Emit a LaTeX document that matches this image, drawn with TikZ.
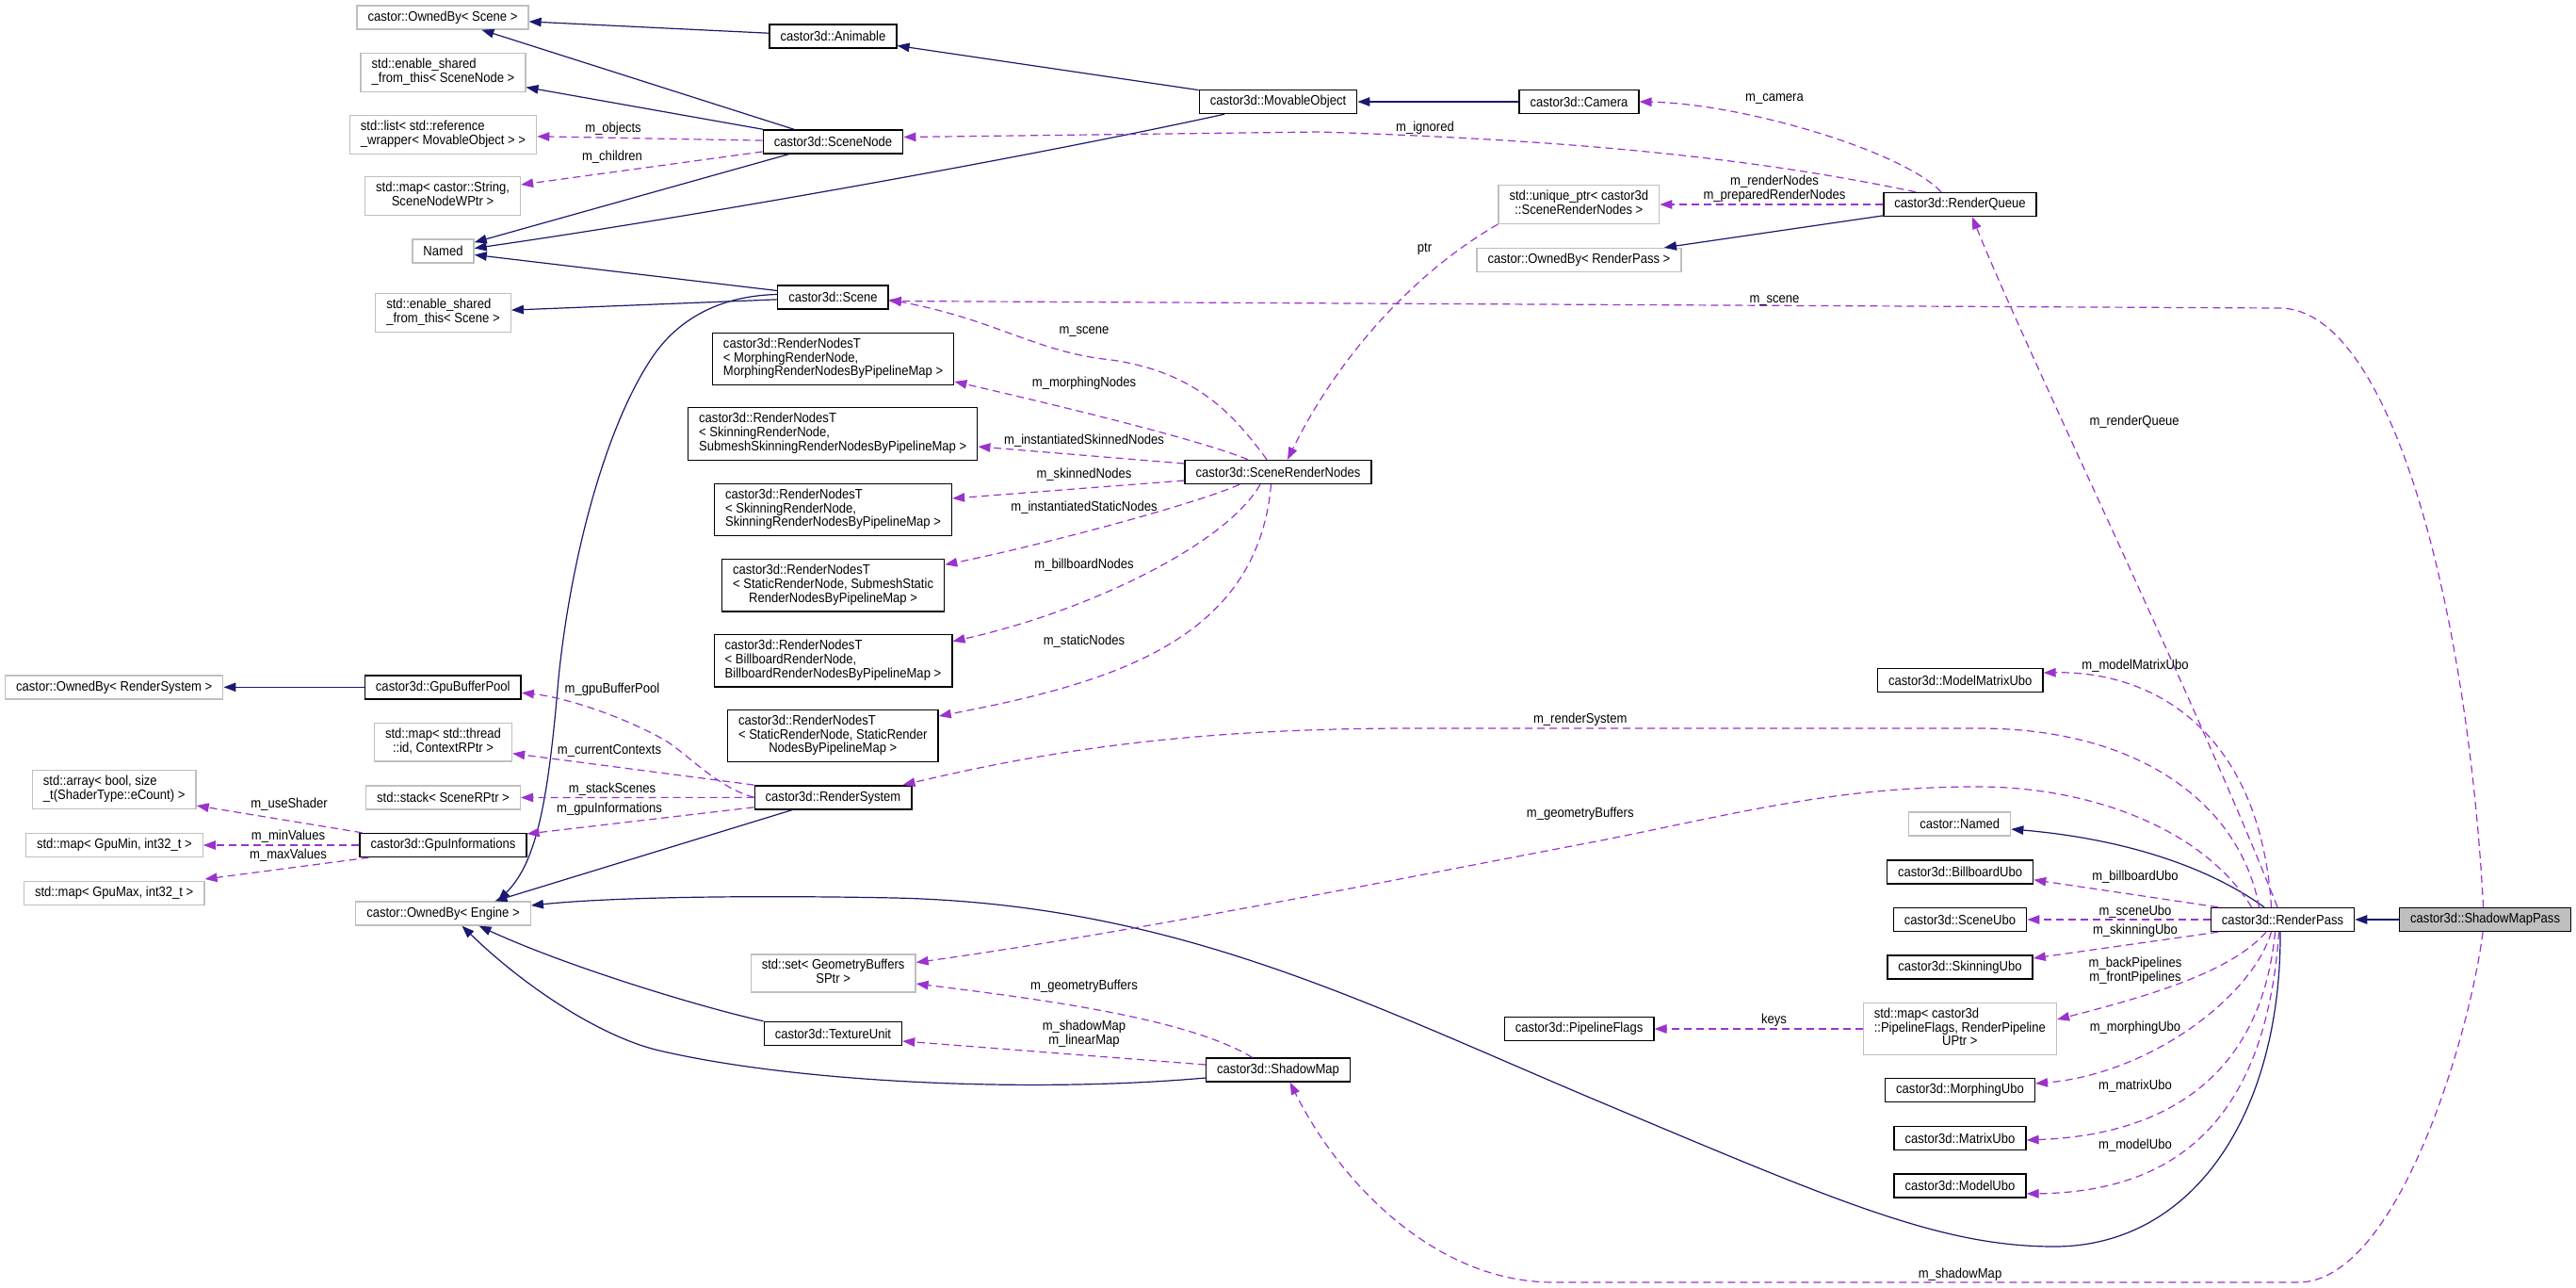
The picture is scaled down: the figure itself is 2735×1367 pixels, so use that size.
\documentclass[tikz,border=0pt]{standalone}
\usepackage{fontspec}
\setmainfont{Liberation Sans}[FakeStretch=0.9]
\usepackage{tikz}
\usetikzlibrary{arrows.meta}
\definecolor{edgeblue}{HTML}{191970}
\definecolor{edgepurple}{HTML}{9A32CD}
\definecolor{boxgray}{HTML}{BFBFBF}
\newcommand{\boxl}[1]{\begin{tabular}{@{}l@{}}#1\end{tabular}}
\newcommand{\boxc}[1]{\begin{tabular}{@{}c@{}}#1\end{tabular}}
\newcommand{\boxlc}[2]{\begin{tabular}{@{}l@{}}#1\\\multicolumn{1}{@{}c@{}}{#2}\end{tabular}}

\begin{document}
\begin{tikzpicture}[x=1pt, y=-1pt, font=\fontsize{14.5}{14.5}\selectfont]
    \tikzset{
      cls/.style = {rectangle, draw=black, line width=1.4pt, inner xsep=11.5pt, inner ysep=5.5pt, minimum height=25pt, fill=white},
      ext/.style = {cls, draw=boxgray},
      focus/.style = {cls, fill=boxgray},
      inherit/.style = {line width=1.2pt, draw=edgeblue, -{Triangle[length=13pt,width=9.5pt]}},
      usage/.style = {line width=1.2pt, draw=edgepurple, dash pattern=on 8pt off 5pt, -{Triangle[length=13pt,width=9.5pt]}},
      lbl/.style = {inner sep=0pt}
    }
    \useasboundingbox (0,0) rectangle (2735,1367);

    \node (ob_scene) [ext] at (470,18.5) {castor::OwnedBy< Scene >};
    \node (esft_node) [ext] at (470.5,77) {\boxl{std::enable\_shared\\\_from\_this< SceneNode >}};
    \node (obj_list) [ext] at (470.5,143) {\boxl{std::list< std::reference\\\_wrapper< MovableObject > >}};
    \node (child_map) [ext] at (470,208) {\boxc{std::map< castor::String,\\SceneNodeWPtr >}};
    \node (named) [ext] at (470.5,266.5) {Named};
    \node (esft_scene) [ext] at (470.5,332) {\boxl{std::enable\_shared\\\_from\_this< Scene >}};
    \node (ob_rsys) [ext] at (121.2,729.3) {castor::OwnedBy< RenderSystem >};
    \node (buf_pool) [cls] at (470.3,729.3) {castor3d::GpuBufferPool};
    \node (ctx_map) [ext] at (470.5,787.7) {\boxc{std::map< std::thread\\::id, ContextRPtr >}};
    \node (shader_arr) [ext] at (121.2,838) {\boxl{std::array< bool, size\\\_t(ShaderType::eCount) >}};
    \node (scene_stack) [ext] at (470.5,846.5) {std::stack< SceneRPtr >};
    \node (gpu_info) [cls] at (470.5,897) {castor3d::GpuInformations};
    \node (min_map) [ext] at (121.4,897) {std::map< GpuMin, int32\_t >};
    \node (max_map) [ext] at (121.2,948) {std::map< GpuMax, int32\_t >};
    \node (ob_engine) [ext] at (470.5,969.5) {castor::OwnedBy< Engine >};

    \node (animable) [cls] at (884.5,38.5) {castor3d::Animable};
    \node (scene_node) [cls] at (884.5,150.5) {castor3d::SceneNode};
    \node (scene) [cls] at (884.4,315.5) {castor3d::Scene};
    \node (morph_nodes) [cls] at (884.6,381) {\boxlc{castor3d::RenderNodesT\\< MorphingRenderNode,}{MorphingRenderNodesByPipelineMap >}};
    \node (inst_skin) [cls] at (884.2,460.5) {\boxlc{castor3d::RenderNodesT\\< SkinningRenderNode,}{SubmeshSkinningRenderNodesByPipelineMap >}};
    \node (skin_nodes) [cls] at (884.5,541) {\boxlc{castor3d::RenderNodesT\\< SkinningRenderNode,}{SkinningRenderNodesByPipelineMap >}};
    \node (inst_static) [cls] at (884.6,621.3) {\boxlc{castor3d::RenderNodesT\\< StaticRenderNode, SubmeshStatic}{RenderNodesByPipelineMap >}};
    \node (bill_nodes) [cls] at (884.5,701.3) {\boxlc{castor3d::RenderNodesT\\< BillboardRenderNode,}{BillboardRenderNodesByPipelineMap >}};
    \node (static_nodes) [cls] at (884.3,781) {\boxlc{castor3d::RenderNodesT\\< StaticRenderNode, StaticRender}{NodesByPipelineMap >}};
    \node (render_sys) [cls] at (884.5,846.3) {castor3d::RenderSystem};
    \node (geom_set) [ext] at (884.6,1033) {\boxc{std::set< GeometryBuffers\\SPtr >}};
    \node (tex_unit) [cls] at (884.4,1097) {castor3d::TextureUnit};

    \node (movable) [cls] at (1357,108) {castor3d::MovableObject};
    \node (scene_rn) [cls] at (1357,501) {castor3d::SceneRenderNodes};
    \node (shadow_map) [cls] at (1357,1135.5) {castor3d::ShadowMap};

    \node (camera) [cls] at (1676.5,108) {castor3d::Camera};
    \node (nodes_ptr) [ext] at (1676.3,217) {\boxc{std::unique\_ptr< castor3d\\::SceneRenderNodes >}};
    \node (ob_rpass) [ext] at (1676.5,276) {castor::OwnedBy< RenderPass >};
    \node (pipe_flags) [cls] at (1676.6,1092) {castor3d::PipelineFlags};

    \node (render_queue) [cls] at (2081,217) {castor3d::RenderQueue};
    \node (model_mat_ubo) [cls] at (2081.3,722) {castor3d::ModelMatrixUbo};
    \node (castor_named) [ext] at (2080.7,874.5) {castor::Named};
    \node (bill_ubo) [cls] at (2081,925.3) {castor3d::BillboardUbo};
    \node (scene_ubo) [cls] at (2081,976) {castor3d::SceneUbo};
    \node (skin_ubo) [cls] at (2081,1026.5) {castor3d::SkinningUbo};
    \node (pipe_map) [ext] at (2080.8,1092) {\boxlc{std::map< castor3d\\::PipelineFlags, RenderPipeline}{UPtr >}};
    \node (morph_ubo) [cls] at (2081,1157) {castor3d::MorphingUbo};
    \node (matrix_ubo) [cls] at (2081,1208) {castor3d::MatrixUbo};
    \node (model_ubo) [cls] at (2081,1258.5) {castor3d::ModelUbo};

    \node (render_pass) [cls] at (2423.5,976) {castor3d::RenderPass};
    \node (sm_pass) [focus] at (2638.6,976) {castor3d::ShadowMapPass};

    \draw [inherit] (animable) -- (ob_scene);
    \draw [inherit] (scene_node) -- (ob_scene);
    \draw [inherit] (scene_node) -- (esft_node);
    \draw [inherit] (scene_node) -- (named);
    \draw [inherit] ([xshift=-57]movable.south) .. controls (1100,165) and (750,228) .. ([yshift=3]named.east);
    \draw [inherit] (scene) -- (named);
    \draw [inherit] (scene) -- (esft_scene);
    \draw [inherit] ([yshift=3]scene.west) .. controls (760,314) and (716,342) .. (690,383) .. controls (640,460) and (605,600) .. (593,720) .. controls (582,850) and (570,915) .. ([xshift=58]ob_engine.north);
    \draw [inherit] (render_sys) -- ([xshift=55]ob_engine.north);
    \draw [inherit] (tex_unit.north west) .. controls (740,1068) and (600,1025) .. ([xshift=38]ob_engine.south);
    \draw [inherit] ([yshift=-8.5]shadow_map.west) .. controls (1100,1160) and (850,1150) .. (700,1115) .. controls (640,1101) and (560,1050) .. ([xshift=20]ob_engine.south);
    \draw [inherit] ([xshift=-2.5]render_pass.south) .. controls (2422,1180) and (2330,1323) .. (2181,1323) .. controls (2060,1323) and (1950,1275) .. (1700,1170) .. controls (1450,1065) and (1250,960) .. (950,953) .. controls (800,950) and (650,952) .. ([yshift=8.5]ob_engine.east);
    \draw [inherit] (buf_pool) -- (ob_rsys);
    \draw [inherit] (render_queue) -- (ob_rpass);
    \draw [inherit] (camera) -- (movable);
    \draw [inherit] (movable) -- (animable);
    \draw [inherit] ([xshift=-19.5]render_pass.north) .. controls (2330,910) and (2230,888) .. ([yshift=-5.5]castor_named.east);
    \draw [inherit] (sm_pass) -- (render_pass);

    \draw [usage] (scene_node) -- (obj_list);
    \draw [usage] ([yshift=-10.5]scene_node.west) -- ([yshift=12]child_map.east);
    \draw [usage] ([xshift=-47]render_queue.north) .. controls (1850,165) and (1650,148) .. (1400,140) -- ([yshift=5]scene_node.east);
    \draw [usage] ([xshift=-20]render_queue.north) .. controls (2020,160) and (1850,110) .. (camera.east);
    \draw [usage] (render_queue) -- (nodes_ptr);
    \draw [usage] (nodes_ptr.south west) .. controls (1500,290) and (1420,380) .. ([xshift=10]scene_rn.north);
    \draw [usage] ([xshift=-12]scene_rn.north) .. controls (1310,440) and (1270,395) .. (1180,382) .. controls (1100,374) and (1060,340) .. ([yshift=-2.5]scene.east);
    \draw [usage] ([xshift=-32]scene_rn.north) .. controls (1270,465) and (1100,425) .. ([yshift=-24]morph_nodes.east);
    \draw [usage] ([yshift=9]scene_rn.west) -- ([yshift=-13.5]inst_skin.east);
    \draw [usage] ([yshift=-9]scene_rn.west) -- ([yshift=12]skin_nodes.east);
    \draw [usage] ([xshift=-41]scene_rn.south) .. controls (1270,535) and (1100,580) .. ([yshift=22]inst_static.east);
    \draw [usage] ([xshift=-19]scene_rn.south) .. controls (1300,580) and (1150,650) .. ([yshift=20.6]bill_nodes.east);
    \draw [usage] ([xshift=-7.5]scene_rn.south) .. controls (1335,680) and (1180,725) .. ([yshift=21]static_nodes.east);
    \draw [usage] ([xshift=-25]render_pass.north) .. controls (2380,860) and (2280,773) .. (2100,773) -- (1500,773) .. controls (1250,773) and (1100,800) .. ([xshift=-10]render_sys.north east);
    \draw [usage] ([xshift=-33]render_pass.north) .. controls (2340,880) and (2220,835) .. (2100,835) .. controls (1950,835) and (1850,862) .. (1700,892) .. controls (1500,930) and (1200,990) .. ([yshift=11.5]geom_set.east);
    \draw [usage] ([xshift=-27.5]shadow_map.north) .. controls (1260,1080) and (1100,1060) .. ([yshift=-11]geom_set.east);
    \draw [usage] ([yshift=5.5]shadow_map.west) -- ([yshift=-8]tex_unit.east);
    \draw [usage] ([xshift=-2.5]sm_pass.south) .. controls (2622,1100) and (2545,1361) .. (2440,1361) -- (1650,1361) .. controls (1520,1361) and (1420,1250) .. ([xshift=12.6]shadow_map.south);
    \draw [usage] ([xshift=-2]sm_pass.north) .. controls (2620,650) and (2540,327) .. (2420,327) -- ([yshift=-4]scene.east);
    \draw [usage] ([xshift=-5.5]render_pass.north) .. controls (2330,740) and (2150,370) .. ([xshift=13]render_queue.south);
    \draw [usage] ([xshift=-12]render_pass.north) .. controls (2400,780) and (2290,712) .. ([yshift=8]model_mat_ubo.east);
    \draw [usage] ([xshift=-68.5]render_pass.north) -- ([yshift=-8.5]bill_ubo.east);
    \draw [usage] (render_pass) -- (scene_ubo);
    \draw [usage] ([xshift=-68.5]render_pass.south) -- ([yshift=9.5]skin_ubo.east);
    \draw [usage] ([xshift=-17.5]render_pass.south) .. controls (2370,1030) and (2290,1055) .. ([yshift=10]pipe_map.east);
    \draw [usage] ([xshift=-12]render_pass.south) .. controls (2390,1060) and (2280,1140) .. ([yshift=7]morph_ubo.east);
    \draw [usage] ([xshift=-8]render_pass.south) .. controls (2400,1150) and (2290,1205) .. ([yshift=-2]matrix_ubo.east);
    \draw [usage] ([xshift=-4]render_pass.south) .. controls (2405,1200) and (2300,1265) .. ([yshift=-8.5]model_ubo.east);
    \draw [usage] (render_sys.west) .. controls (760,835) and (730,800) .. (705,785) .. controls (660,760) and (600,740) .. ([yshift=-6]buf_pool.east);
    \draw [usage] (render_sys.north west) -- ([yshift=-12]ctx_map.east);
    \draw [usage] (render_sys) -- (scene_stack);
    \draw [usage] ([yshift=-10.5]render_sys.west) -- ([yshift=12]gpu_info.east);
    \draw [usage] ([xshift=3]gpu_info.north west) -- ([yshift=-17]shader_arr.east);
    \draw [usage] (gpu_info) -- (min_map);
    \draw [usage] ([xshift=10]gpu_info.south west) -- ([yshift=15]max_map.east);
    \draw [usage] (pipe_map) -- (pipe_flags);

    \node (l_objects) [lbl] at (651,137) {m\_objects};
    \node (l_children) [lbl] at (650,167) {m\_children};
    \node (l_ignored) [lbl] at (1513,136) {m\_ignored};
    \node (l_camera) [lbl] at (1884,105) {m\_camera};
    \node (l_render_nodes) [lbl] at (1884,201) {\boxc{m\_renderNodes\\m\_preparedRenderNodes}};
    \node (l_ptr) [lbl] at (1512.5,264) {ptr};
    \node (l_scene_rn) [lbl] at (1151,352) {m\_scene};
    \node (l_scene_pass) [lbl] at (1884,319) {m\_scene};
    \node (l_morph) [lbl] at (1151,407) {m\_morphingNodes};
    \node (l_inst_skin) [lbl] at (1151,468) {m\_instantiatedSkinnedNodes};
    \node (l_skin) [lbl] at (1151,504) {m\_skinnedNodes};
    \node (l_inst_static) [lbl] at (1151,539) {m\_instantiatedStaticNodes};
    \node (l_bill) [lbl] at (1151,600) {m\_billboardNodes};
    \node (l_static) [lbl] at (1151,680.7) {m\_staticNodes};
    \node (l_render_queue) [lbl] at (2266,448) {m\_renderQueue};
    \node (l_model_mat) [lbl] at (2267,707) {m\_modelMatrixUbo};
    \node (l_render_sys) [lbl] at (1677.7,764) {m\_renderSystem};
    \node (l_geom_pass) [lbl] at (1677.7,864) {m\_geometryBuffers};
    \node (l_bill_ubo) [lbl] at (2267,931) {m\_billboardUbo};
    \node (l_scene_ubo) [lbl] at (2267,968) {m\_sceneUbo};
    \node (l_skin_ubo) [lbl] at (2267,988) {m\_skinningUbo};
    \node (l_pipelines) [lbl] at (2267,1030.5) {\boxc{m\_backPipelines\\m\_frontPipelines}};
    \node (l_morph_ubo) [lbl] at (2267,1091) {m\_morphingUbo};
    \node (l_matrix_ubo) [lbl] at (2267,1153) {m\_matrixUbo};
    \node (l_model_ubo) [lbl] at (2267,1216) {m\_modelUbo};
    \node (l_buf_pool) [lbl] at (650,731.7) {m\_gpuBufferPool};
    \node (l_contexts) [lbl] at (647,796.7) {m\_currentContexts};
    \node (l_stack) [lbl] at (650,838) {m\_stackScenes};
    \node (l_gpu_info) [lbl] at (647,859) {m\_gpuInformations};
    \node (l_use_shader) [lbl] at (307,854) {m\_useShader};
    \node (l_min) [lbl] at (306,888) {m\_minValues};
    \node (l_max) [lbl] at (306,908) {m\_maxValues};
    \node (l_geom_map) [lbl] at (1151,1047) {m\_geometryBuffers};
    \node (l_maps) [lbl] at (1151,1097.5) {\boxc{m\_shadowMap\\m\_linearMap}};
    \node (l_keys) [lbl] at (1883.5,1083) {keys};
    \node (l_shadow_map) [lbl] at (2081,1353) {m\_shadowMap};
\end{tikzpicture}
\end{document}
